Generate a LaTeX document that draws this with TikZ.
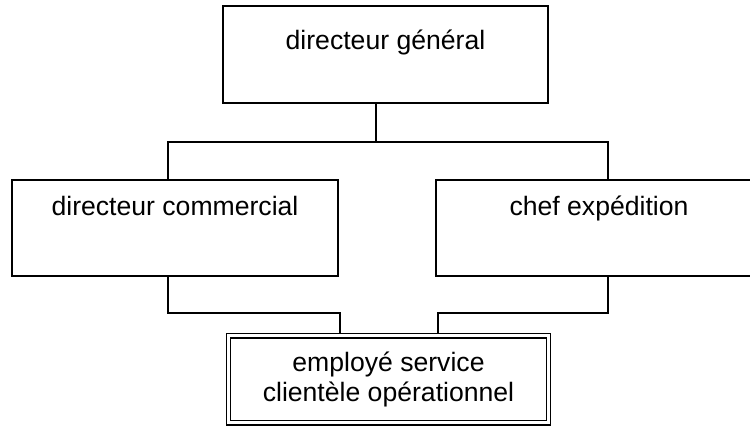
\documentclass[tikz,border=0pt]{standalone}
\usepackage{fontspec}
\setmainfont{Liberation Sans}
\usetikzlibrary{positioning}
\begin{document}
\begin{tikzpicture}[x=1pt,y=1pt,line width=1.5pt,
        font=\fontsize{26.6}{30}\selectfont,
        post/.style={draw,inner sep=0pt,outer sep=0pt,minimum width=326pt},
        haut/.style={post,text height=35pt,text depth=61pt},
        final/.style={draw,double,double distance=3.2pt,line width=1.35pt,inner sep=0pt,
            outer sep=2.95pt,minimum width=320pt,minimum height=87pt,align=center}]
                \useasboundingbox (0,0) rectangle (750,-426);
                \clip (0,0) rectangle (750,-426);
                \node[post,text height=43pt,text depth=54pt,minimum width=325pt] (dg) at (385.5,-54.5) {directeur général};
                \node[haut,below=77pt of dg,xshift=-210.5pt] (dc) {directeur commercial};
                \node[haut,right=98pt of dc] (ce) {chef expédition};
                \node[final,below=229.6pt of dg,xshift=3pt] (eso) {employé service\\clientèle opérationnel};
                \draw ([xshift=-9.5pt]dg.south) -- ++(0,-39) coordinate (bus);
                \draw ([xshift=-7pt]dc.north) |- (bus) -| ([xshift=9pt]ce.north);
                \draw ([xshift=-7pt]dc.south) -- ++(0,-37) -| ([xshift=-48.5pt]eso.north);
                \draw ([xshift=9pt]ce.south) -- ++(0,-37) -| ([xshift=49.5pt]eso.north);
            \end{tikzpicture}
\end{document}
